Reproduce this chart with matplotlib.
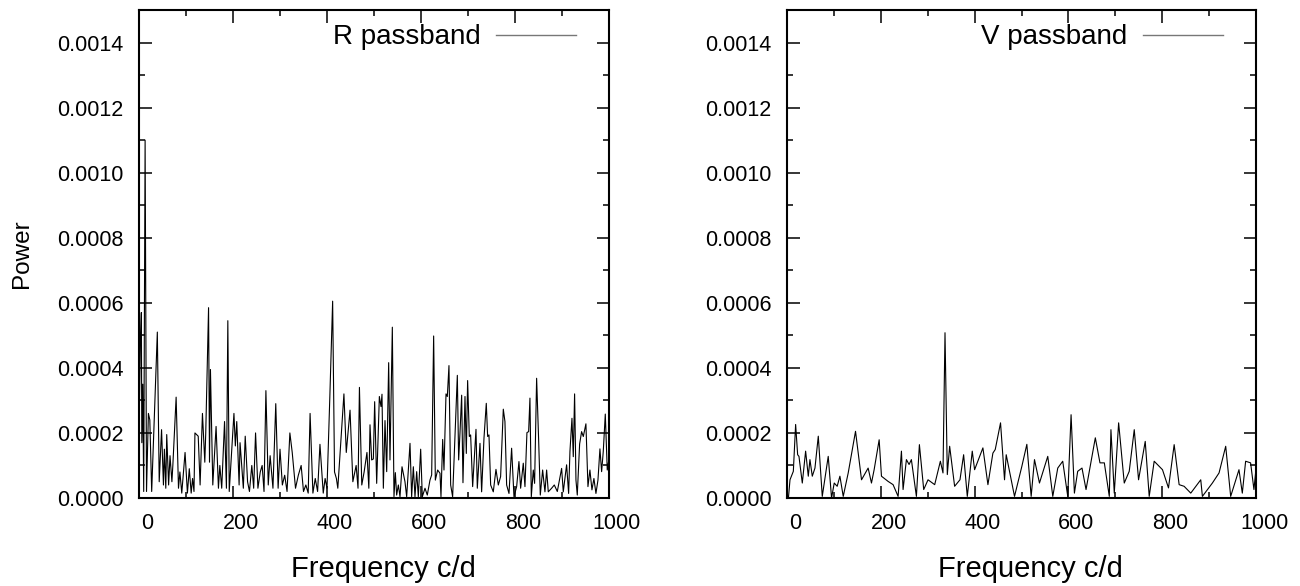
import matplotlib
matplotlib.use("Agg")
import matplotlib.pyplot as plt
from matplotlib.ticker import MultipleLocator
from matplotlib.transforms import ScaledTranslation

plt.rcParams['font.family'] = ['Liberation Sans', 'DejaVu Sans']

# R passband periodogram: (frequency c/d, power in units of 1e-4)
r_points = [
    (0, 2.0), (3, 4.8), (5, 5.7), (6, 1.7), (8, 3.5), (10, 0.2), (13, 11.0), (16, 0.2),
    (20, 2.6), (23, 2.4), (27, 0.2), (39, 5.1), (43, 0.5), (48, 2.1), (52, 0.4), (54, 1.5),
    (57, 0.3), (59, 1.95), (63, 0.4), (66, 1.3), (70, 0.5), (72, 1.0), (79, 3.1), (84, 0.3),
    (87, 0.8), (91, 0.15), (98, 1.4), (103, 0.15), (107, 0.9), (111, 0.15), (114, 0.6),
    (117, 0.2), (119, 2.0), (126, 1.9), (130, 0.4), (135, 2.6), (140, 1.1), (142, 2.0),
    (148, 5.85), (150, 1.1), (152, 3.95), (157, 0.4), (164, 2.2), (169, 0.3), (172, 1.0),
    (176, 0.3), (182, 2.35), (186, 0.3), (189, 5.45), (192, 0.2), (202, 2.6), (205, 1.6),
    (208, 2.35), (213, 0.4), (215, 1.7), (222, 0.3), (226, 1.9), (231, 0.5), (235, 0.2),
    (240, 1.0), (244, 0.3), (248, 2.0), (253, 0.3), (258, 0.8), (262, 1.0), (266, 0.2),
    (270, 3.3), (275, 0.4), (279, 1.3), (285, 0.3), (291, 2.9), (296, 0.3), (300, 1.5),
    (305, 0.4), (310, 0.7), (315, 0.2), (321, 2.0), (326, 1.4), (333, 0.3), (339, 0.7),
    (345, 1.0), (350, 0.2), (355, 0.4), (360, 0.15), (364, 2.6), (370, 0.15), (375, 0.6),
    (380, 0.2), (385, 1.65), (392, 0.15), (396, 0.6), (400, 0.3), (406, 3.1), (412, 6.05),
    (416, 0.8), (420, 0.6), (423, 0.3), (436, 3.2), (441, 1.4), (449, 2.7), (455, 0.5),
    (462, 1.0), (466, 0.3), (469, 3.4), (474, 0.4), (479, 0.8), (485, 1.4), (489, 0.3),
    (491.5, 2.25), (495, 1.17), (498.6, 1.2), (501.4, 2.96), (505.7, 0.45), (511.4, 3.12),
    (514.9, 2.81), (517, 3.19), (519.9, 0.3), (523.4, 2.38), (527, 0.81), (531.2, 4.16),
    (534, 1.17), (539, 5.25), (542.5, 0.04), (545.4, 0.78), (548.2, 0.09), (551.8, 0.4),
    (555.3, 0.04), (559.6, 0.96), (565.9, 0.5), (569.5, 0.04), (576.6, 1.68), (580.1, 0.04),
    (583.7, 0.96), (587.2, 0.04), (590.8, 0.81), (594.3, 0.04), (599.3, 1.5), (602.8, 0.04),
    (608.5, 0.3), (613.4, 0.09), (619.1, 0.55), (622.7, 0.71), (626.9, 4.98), (630.5, 0.55),
    (635.4, 0.86), (640.4, 0.76), (642.5, 0.04), (646.1, 1.8), (648.9, 0.86), (653.2, 3.2),
    (656, 3.12), (659.5, 4.07), (663.1, 0.4), (667.3, 0.04), (677.3, 3.77), (680.1, 1.17),
    (682.9, 1.99), (686.5, 3.16), (689.3, 0.47), (693.6, 3.12), (696.4, 1.37), (699.2, 3.61),
    (702.8, 1.89), (705.6, 1.94), (709.9, 0.35), (717, 2.11), (719.8, 0.3), (725.5, 1.68),
    (729, 0.19), (734, 1.84), (738.9, 2.91), (741.8, 1.89), (744.6, 1.94), (748.2, 0.4),
    (753.8, 0.19), (759.5, 0.88), (764.5, 0.4), (769.4, 0.66), (775.1, 2.73), (778.6, 2.35),
    (782.2, 0.4), (787.2, 0.14), (792.8, 1.53), (797.8, 0.04), (803.5, 0.35), (808.4, 1.12),
    (812, 0.3), (817.6, 1.07), (821.2, 0.35), (825.4, 2.01), (829, 2.04), (831.8, 3.07),
    (834.7, 0.04), (838.9, 0.86), (841.7, 0.45), (846, 3.68), (850.3, 1.78), (853.8, 0.09),
    (858.8, 0.86), (863.7, 0.19), (867.3, 0.86), (870.8, 0.19), (877.9, 0.3), (883.6, 0.4),
    (890, 0.2), (899.2, 0.91), (902.7, 0.19), (909.8, 1.02), (914.1, 0.14), (916.9, 1.43),
    (921.2, 2.45), (924, 1.27), (926.8, 3.2), (929.7, 0.55), (932.5, 0.09), (937.5, 1.66),
    (941.7, 2.04), (945.3, 1.89), (950.9, 2.28), (955.2, 0.35), (959.4, 0.86), (963.7, 0.25),
    (967.9, 0.6), (972.2, 0.14), (976.5, 0.55), (980.7, 1.51), (984.3, 0.81), (987.8, 1.43),
    (992.1, 2.58), (996.3, 0.86), (1000, 1.2),
]

# V passband periodogram: (frequency c/d, power in units of 1e-4)
v_points = [
    (0, 0.0), (3, 0.0), (6.4, 0.56), (13.5, 0.82), (18.4, 2.26), (22.7, 1.33), (25.5, 1.28),
    (32.6, 0.46), (39.7, 1.44), (45.4, 0.67), (48.9, 1.18), (53.9, 0.67), (59.6, 0.92),
    (66.7, 1.9), (75.2, 0.05), (87.9, 1.28), (95, 0.0), (100.7, 0.46), (107, 0.36),
    (112.8, 0.67), (119.9, 0.05), (130.5, 0.77), (146.1, 2.05), (158.9, 0.56), (173, 0.92),
    (180.1, 0.46), (185.8, 0.87), (196.5, 1.79), (201.4, 0.67), (215.6, 0.51), (226.2, 0.41),
    (236.9, 0.05), (244, 1.44), (247.5, 0.26), (254.6, 1.18), (260.3, 1.03), (265.2, 1.18),
    (275.9, 0.05), (282.3, 1.64), (291.5, 0.26), (300.7, 0.56), (314.9, 0.41), (327, 1.13),
    (332.6, 0.77), (336.9, 5.08), (341.8, 0.72), (346.8, 1.59), (357.4, 0.36), (368.8, 0.56),
    (376.6, 1.33), (384.4, 0.05), (395, 1.44), (400, 0.87), (417.7, 1.54), (428.4, 0.41),
    (439, 1.38), (444, 1.49), (455.3, 2.31), (463.8, 0.56), (467.4, 1.33), (485.1, 0.05),
    (500.7, 0.97), (511.4, 1.65), (520.6, 0.05), (527.7, 1.18), (538.3, 0.46), (556, 1.28),
    (566.7, 0.05), (577.3, 0.92), (587.9, 1.13), (598.6, 0.05), (605.7, 2.56), (612.8, 0.15),
    (619.8, 0.82), (629, 0.92), (637.6, 0.26), (657.4, 1.85), (667.3, 1.08), (676.6, 1.08),
    (687.2, 0.05), (690.7, 2.1), (697.8, 0.15), (707.1, 2.31), (719.1, 0.46), (729.7, 0.82),
    (740.4, 2.1), (749.6, 0.56), (763.8, 1.74), (772.3, 0.05), (782.9, 1.13), (800.6, 0.87),
    (813.4, 0.31), (825.5, 1.64), (836.1, 0.41), (846.7, 0.36), (860.9, 0.15), (882.2, 0.56),
    (885.7, 0.05), (907, 0.46), (921.2, 0.77), (935.4, 1.59), (946, 0.05), (963.7, 0.87),
    (970.8, 0.15), (977.9, 1.13), (988.5, 1.08), (995.6, 0.26), (1000, 0.9),
]

panels = [("R passband", r_points), ("V passband", v_points)]
x_ticks = [0, 200, 400, 600, 800, 1000]
y_ticks = [0.0000, 0.0002, 0.0004, 0.0006, 0.0008, 0.0010, 0.0012, 0.0014]

fig = plt.figure(figsize=(13, 5.86), dpi=100)
rects = [[139 / 1300, 88 / 586, 470 / 1300, 488 / 586],
         [787 / 1300, 88 / 586, 469 / 1300, 488 / 586]]

for i, (name, pts) in enumerate(panels):
    f = [a for a, b in pts]
    p = [b * 1e-4 for a, b in pts]
    ax = fig.add_axes(rects[i])
    ax.plot(f, p, color='black', lw=0.8, label=name)
    ax.set_xlim(0, 1000)
    ax.set_ylim(0, 0.0015)
    ax.set_xticks(x_ticks)
    ax.set_yticks(y_ticks)
    ax.yaxis.set_major_formatter(plt.FormatStrFormatter('%.4f'))
    ax.xaxis.set_minor_locator(MultipleLocator(100))
    ax.yaxis.set_minor_locator(MultipleLocator(0.0001))
    ax.tick_params(which='both', direction='in', top=True, right=True, width=1.1,
                   labelsize=15.5)
    ax.tick_params(which='major', length=9)
    ax.tick_params(which='minor', length=4.5)
    ax.tick_params(axis='x', pad=11)
    ax.tick_params(axis='y', pad=11)
    for s in ax.spines.values():
        s.set_linewidth(1.5)
    # tick labels sit a little to the right of their ticks in the original
    off = ScaledTranslation(8 / 100, 0, fig.dpi_scale_trans)
    for t in ax.xaxis.get_major_ticks():
        t.label1.set_transform(t.label1.get_transform() + off)
    ax.set_xlabel("Frequency c/d", fontsize=21, labelpad=15)
    ax.xaxis.label.set_x(0.5 + 9 / 470)
    if i == 0:
        ax.set_ylabel("Power", fontsize=17.5, labelpad=17)
    leg = ax.legend(loc='upper right', frameon=False, fontsize=20, markerfirst=False,
                    handlelength=2.9, handletextpad=0.55, borderaxespad=0.2,
                    bbox_to_anchor=(0.966, 1.005))
    for h in leg.get_lines():
        h.set_color('#777777')
        h.set_linewidth(1.0)

fig.savefig("out.png", dpi=100)
